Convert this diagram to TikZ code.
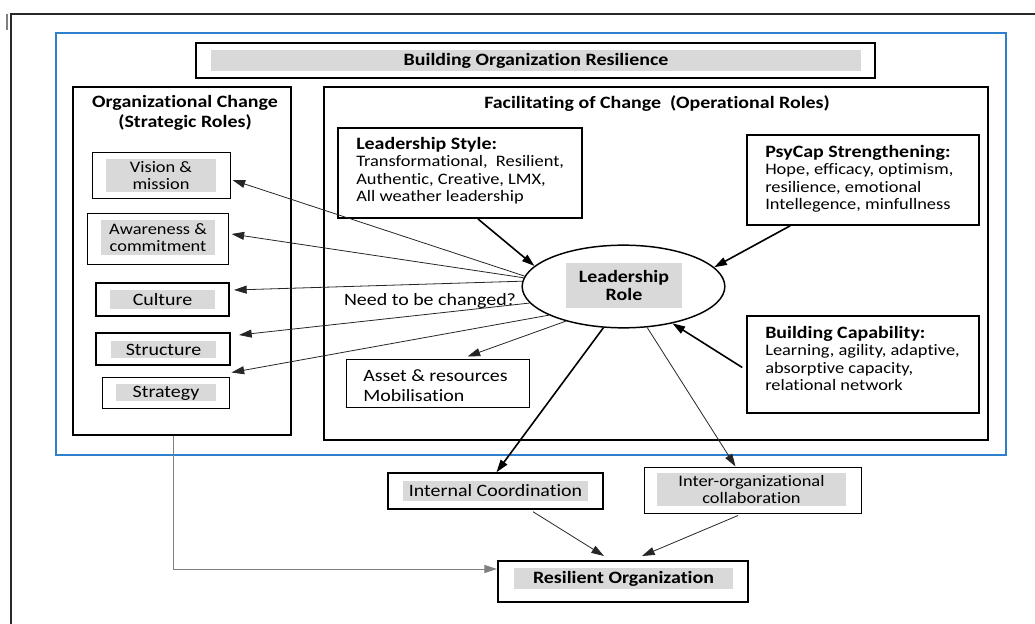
\documentclass[tikz,border=0pt]{standalone}
\usepackage{fontspec}
\setmainfont{Carlito}[FakeStretch=1.15, Ligatures=NoCommon]
\usetikzlibrary{arrows.meta,shapes.geometric,fit}
\definecolor{gfill}{RGB}{217,217,217}
\definecolor{bluebox}{RGB}{46,128,205}
\definecolor{framec}{RGB}{40,40,40}
\newcommand{\fsA}{\fontsize{12pt}{13pt}\selectfont}
\newcommand{\fsB}{\fontsize{13pt}{15pt}\selectfont}
\newcommand{\fsBb}{\fontsize{13pt}{13.7pt}\selectfont\bfseries}
\begin{document}
\begin{tikzpicture}[x=0.75pt,y=-0.75pt,
  thickbox/.style={draw, line width=1.5pt, inner sep=0pt},
  midbox/.style={draw, line width=1.1pt, inner sep=0pt},
  thinbox/.style={draw, line width=0.75pt, inner sep=0pt},
  gfillbox/.style={fill=gfill, inner sep=0pt},
  ltxt/.style={inner sep=0pt, align=center, font=\fsA},
  txt/.style={inner sep=0pt, align=left, font=\fsA, anchor=north west},
  arr/.style={-{Triangle[length=9.5pt,width=6pt]}},
  thinarr/.style={arr, line width=0.6pt, draw=black!85},
  thickarr/.style={arr, line width=1.2pt},
]
\useasboundingbox (0,0) rectangle (1035,624);
% outer frame
\coordinate (fbl) at (11,624);
\coordinate (ftl) at (11,14);
\coordinate (ftr) at (1035,14);
\draw[framec, line width=1.5pt] (fbl) -- (ftl) -- (ftr);
\coordinate (mk1) at (7,14);
\coordinate (mk2) at (7,30);
\draw[gray, line width=1.2pt] (mk1) -- (mk2);
% blue box
\node[draw=bluebox, line width=1.5pt, inner sep=0pt, fit={(56,33) (1006,455)}] (blue) {};
% title
\node[thickbox, fit={(196,43) (875,78)}] (title) {};
\node[gfillbox, fit={(211,50) (861,71)}] (titlelbl) {};
\node[ltxt, font=\fsB\bfseries] (titletxt) at (titlelbl.center) {Building Organization Resilience};
% left column
\node[thickbox, fit={(73,87) (291,435)}] (orgch) {};
\node[inner sep=0pt, align=center, font=\fsB\bfseries] (orgchtxt) at (185,113) {Organizational Change\\(Strategic Roles)};
\node[thinbox, fit={(92,153) (230,199)}] (vision) {};
\node[gfillbox, fit={(106,159) (216,192)}] (visionlbl) {};
\node[ltxt] (visiontxt) at (visionlbl.center) {Vision \&\\mission};
\node[thinbox, fit={(87,213) (228,264)}] (aware) {};
\node[gfillbox, fit={(101,220) (215,255)}] (awarelbl) {};
\node[ltxt] (awaretxt) at (awarelbl.center) {Awareness \&\\commitment};
\node[thickbox, fit={(96,283) (229,316)}] (culture) {};
\node[gfillbox, fit={(110,290) (215,309)}] (culturelbl) {};
\node[ltxt, font=\fsB] (culturetxt) at (culturelbl.center) {Culture};
\node[thickbox, fit={(96,333) (230,365)}] (struct) {};
\node[gfillbox, fit={(111,341) (216,358)}] (structlbl) {};
\node[ltxt, font=\fsB] (structtxt) at (structlbl.center) {Structure};
\node[thinbox, fit={(102,377) (229,408)}] (strat) {};
\node[gfillbox, fit={(116,384) (216,401)}] (stratlbl) {};
\node[ltxt, font=\fsB] (strattxt) at ([yshift=-1pt]stratlbl.center) {Strategy};
% right column
\node[thickbox, fit={(324,87) (988,440)}] (facil) {};
\node[inner sep=0pt, font=\fsB\bfseries] (faciltxt) at (657,104) {Facilitating of Change~~(Operational Roles)};
\node[thickbox, fit={(338,128) (582,218)}] (lstyle) {};
\node[txt] (lstyletxt) at (356,137) {\textbf{\fontsize{13pt}{13pt}\selectfont Leadership Style:}\\Transformational,~ Resilient,\\Authentic, Creative, LMX,\\All weather leadership};
\node[midbox, fit={(747,135) (979,225)}] (psycap) {};
\node[txt] (psycaptxt) at (765,145) {\textbf{\fontsize{13pt}{13pt}\selectfont PsyCap Strengthening:}\\Hope, efficacy, optimism,\\resilience, emotional\\Intellegence, minfullness};
\node[midbox, fit={(747,316) (979,413)}] (bcap) {};
\node[txt] (bcaptxt) at (765,326) {\textbf{\fontsize{13pt}{13pt}\selectfont Building Capability:}\\Learning, agility, adaptive,\\absorptive capacity,\\relational network};
\node[thinbox, fit={(346,359) (529,407)}] (asset) {};
\node[txt, font=\fsB] (assettxt) at (363,369) {Asset \& resources\\Mobilisation};
% leadership role
\node[ellipse, draw, line width=1.1pt, inner sep=0pt, minimum width=152pt, minimum height=62pt] (lr) at (623.5,286.5) {};
\node[gfillbox, fit={(566,263) (682,308)}] (lrlbl) {};
\node[ltxt, font=\fsBb] (lrtxt) at (lrlbl.center) {Leadership\\Role};
\node[inner sep=0pt, font=\fsB] (needtxt) at (430,301) {Need to be changed?};
% bottom
\node[midbox, fit={(388,473) (603,509)}] (intco) {};
\node[gfillbox, fit={(403,481) (588,501)}] (intcolbl) {};
\node[ltxt, font=\fsB] (intcotxt) at (intcolbl.center) {Internal Coordination};
\node[thinbox, fit={(644,467) (861,513)}] (inter) {};
\node[gfillbox, fit={(657,473) (846,506)}] (interlbl) {};
\node[ltxt] (intertxt) at (interlbl.center) {Inter-organizational\\collaboration};
\node[thickbox, fit={(498,561) (748,602)}] (res) {};
\node[gfillbox, fit={(514,568) (733,589)}] (reslbl) {};
\node[ltxt, font=\fsBb] (restxt) at (reslbl.center) {Resilient Organization};
% incoming arrows
\draw[thickarr] ([shift={(18,0)}]lstyle.south) -- (lr.167);
\draw[thickarr] ([shift={(44,0)}]psycap.south west) -- (lr.12);
\draw[thickarr] ([shift={(-4,3)}]bcap.west) -- (lr.323);
% outgoing arrows
\draw[thinarr] (lr.174.6) -- ([shift={(2,4)}]vision.east);
\draw[thinarr] (lr.175.3) -- ([shift={(3,-4.5)}]aware.east);
\draw[thinarr] (lr.177.7) -- ([shift={(4,-9.5)}]culture.east);
\draw[thinarr] (lr.190.4) -- ([shift={(8,-14)}]struct.east);
\draw[thinarr] (lr.201) -- ([shift={(2,-4)}]strat.north east);
\draw[thinarr] (lr.211) -- ([shift={(30,-2)}]asset.north);
\draw[thickarr] (lr.244.5) -- ([shift={(1,0)}]intco.north);
\draw[thinarr] (lr.300.8) -- ([shift={(-17,0)}]inter.north);
\draw[thinarr] ([shift={(37.5,2)}]intco.south) -- ([shift={(-19,-4)}]res.north);
\draw[thinarr] ([shift={(-14.5,2)}]inter.south) -- ([shift={(19,-4)}]res.north);
\draw[arr, line width=0.75pt, draw=gray] ([shift={(-9,0)}]orgch.south) |- ([shift={(0,-12.5)}]res.west);
\end{tikzpicture}
\end{document}
